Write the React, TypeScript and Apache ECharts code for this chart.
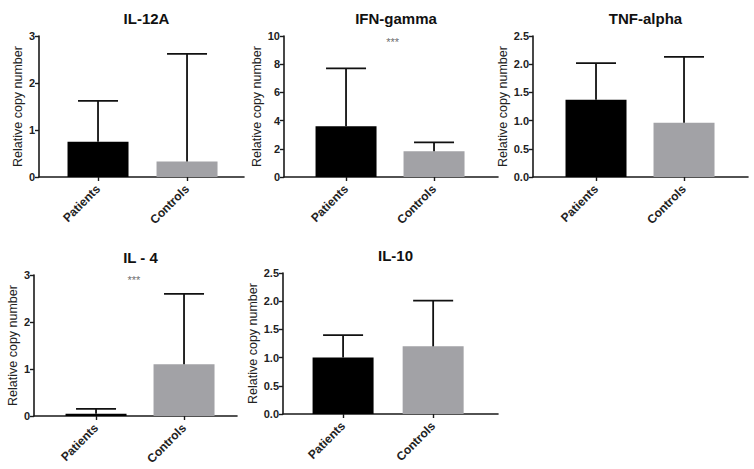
import React, { useEffect, useRef } from "react";
import * as echarts from "echarts";

// ---- data ----
const groups = ["Patients", "Controls"];
const panelTitles = ["IL-12A", "IFN-gamma", "TNF-alpha", "IL - 4", "IL-10"];
const il12aMean = [0.75, 0.33];
const il12aSD = [0.87, 2.29];
const ifnMean = [3.6, 1.82];
const ifnSD = [4.1, 0.63];
const tnfMean = [1.37, 0.96];
const tnfSD = [0.65, 1.17];
const il4Mean = [0.05, 1.1];
const il4SD = [0.1, 1.5];
const il10Mean = [1.0, 1.2];
const il10SD = [0.4, 0.81];
const yMax = [3, 10, 2.5, 3, 2.5];
const yStep = [1, 2, 0.5, 1, 0.5];
const significance = ["", "***", "", "***", ""];
const yAxisTitle = "Relative copy number";

// ---- layout (not data) ----
const grids = [
  { left: 39, top: 36, width: 205, height: 141 },
  { left: 284, top: 36, width: 214, height: 141 },
  { left: 533, top: 36, width: 215, height: 141 },
  { left: 34, top: 275, width: 203, height: 141 },
  { left: 283, top: 273, width: 215, height: 141 },
];
const xRanges = [
  [-0.663, 1.64],
  [-0.705, 1.727],
  [-0.716, 1.727],
  [-0.705, 1.602],
  [-0.667, 1.72],
];
const nameGaps = [15, 20, 19, 15, 19];
const sigPos = [null, [0.53, 9.6], null, [0.43, 2.89], null];

const means = [il12aMean, ifnMean, tnfMean, il4Mean, il10Mean];
const sds = [il12aSD, ifnSD, tnfSD, il4SD, il10SD];
const barColors = ["#000000", "#a2a2a6"];
const FONT = "'Liberation Sans', Arial, sans-serif";
const AX = "#1a1a1a";

export default function App() {
  const ref = useRef<HTMLDivElement>(null);
  useEffect(() => {
    if (!ref.current) return;
    const chart = echarts.init(ref.current, null, { renderer: "svg" });
    const title: any[] = [];
    const grid: any[] = [];
    const xAxis: any[] = [];
    const yAxis: any[] = [];
    const series: any[] = [];
    panelTitles.forEach((t, i) => {
      const g = grids[i];
      grid.push({ ...g, containLabel: false });
      title.push({
        text: t,
        left: g.left + g.width / 2,
        top: g.top - 30,
        textAlign: "center",
        textStyle: { fontFamily: FONT, fontSize: 15, fontWeight: "bold", color: "#111" },
      });
      xAxis.push({
        type: "value",
        gridIndex: i,
        min: xRanges[i][0],
        max: xRanges[i][1],
        splitLine: { show: false },
        axisLine: { show: true, onZero: false, lineStyle: { color: AX, width: 1.6 } },
        axisTick: { show: true, customValues: [0, 1], length: 4, lineStyle: { color: AX, width: 1.4 } },
        axisLabel: {
          customValues: [0, 1],
          formatter: (v: number) => groups[Math.round(v)] ?? "",
          rotate: 45,
          margin: 10,
          fontFamily: FONT,
          fontSize: 12,
          fontWeight: "bold",
          color: "#222",
        },
      });
      yAxis.push({
        type: "value",
        gridIndex: i,
        min: 0,
        max: yMax[i],
        interval: yStep[i],
        name: yAxisTitle,
        nameLocation: "middle",
        nameRotate: 90,
        nameGap: nameGaps[i],
        nameTextStyle: { fontFamily: FONT, fontSize: 12.5, color: "#222" },
        splitLine: { show: false },
        axisLine: { show: true, onZero: false, lineStyle: { color: AX, width: 1.6 } },
        axisTick: { show: true, length: 4, lineStyle: { color: AX, width: 1.4 } },
        axisLabel: {
          margin: 4,
          fontFamily: FONT,
          fontSize: 11,
          fontWeight: "bold",
          color: "#222",
          formatter: (v: number) => (yStep[i] < 1 ? v.toFixed(1) : String(v)),
        },
      });
      series.push({
        type: "bar",
        xAxisIndex: i,
        yAxisIndex: i,
        barWidth: 61,
        data: means[i].map((m, k) => ({ value: [k, m], itemStyle: { color: barColors[k] } })),
      });
      series.push({
        type: "custom",
        xAxisIndex: i,
        yAxisIndex: i,
        z: 5,
        data: means[i].map((m, k) => [k, m, m + sds[i][k]]),
        renderItem: (params: any, api: any) => {
          const base = api.coord([api.value(0), api.value(1)]);
          const top = api.coord([api.value(0), api.value(2)]);
          const style = { stroke: "#111", lineWidth: 1.8 };
          return {
            type: "group",
            children: [
              { type: "line", shape: { x1: base[0], y1: base[1], x2: top[0], y2: top[1] }, style },
              { type: "line", shape: { x1: top[0] - 20, y1: top[1], x2: top[0] + 20, y2: top[1] }, style },
            ],
          };
        },
      });
      if (significance[i] && sigPos[i]) {
        series.push({
          type: "scatter",
          xAxisIndex: i,
          yAxisIndex: i,
          symbolSize: 0,
          itemStyle: { color: "#444" },
          data: [sigPos[i]],
          label: {
            show: true,
            position: "inside",
            formatter: significance[i],
            fontFamily: FONT,
            fontSize: 11,
            color: "#444",
          },
        });
      }
    });
    chart.setOption({
      animation: false,
      backgroundColor: "#ffffff",
      title,
      grid,
      xAxis,
      yAxis,
      series,
    });
    return () => chart.dispose();
  }, []);
  return (
    <div
      ref={ref}
      style={{ position: "fixed", left: 0, top: 0, width: 754, height: 469, background: "#fff" }}
    />
  );
}
